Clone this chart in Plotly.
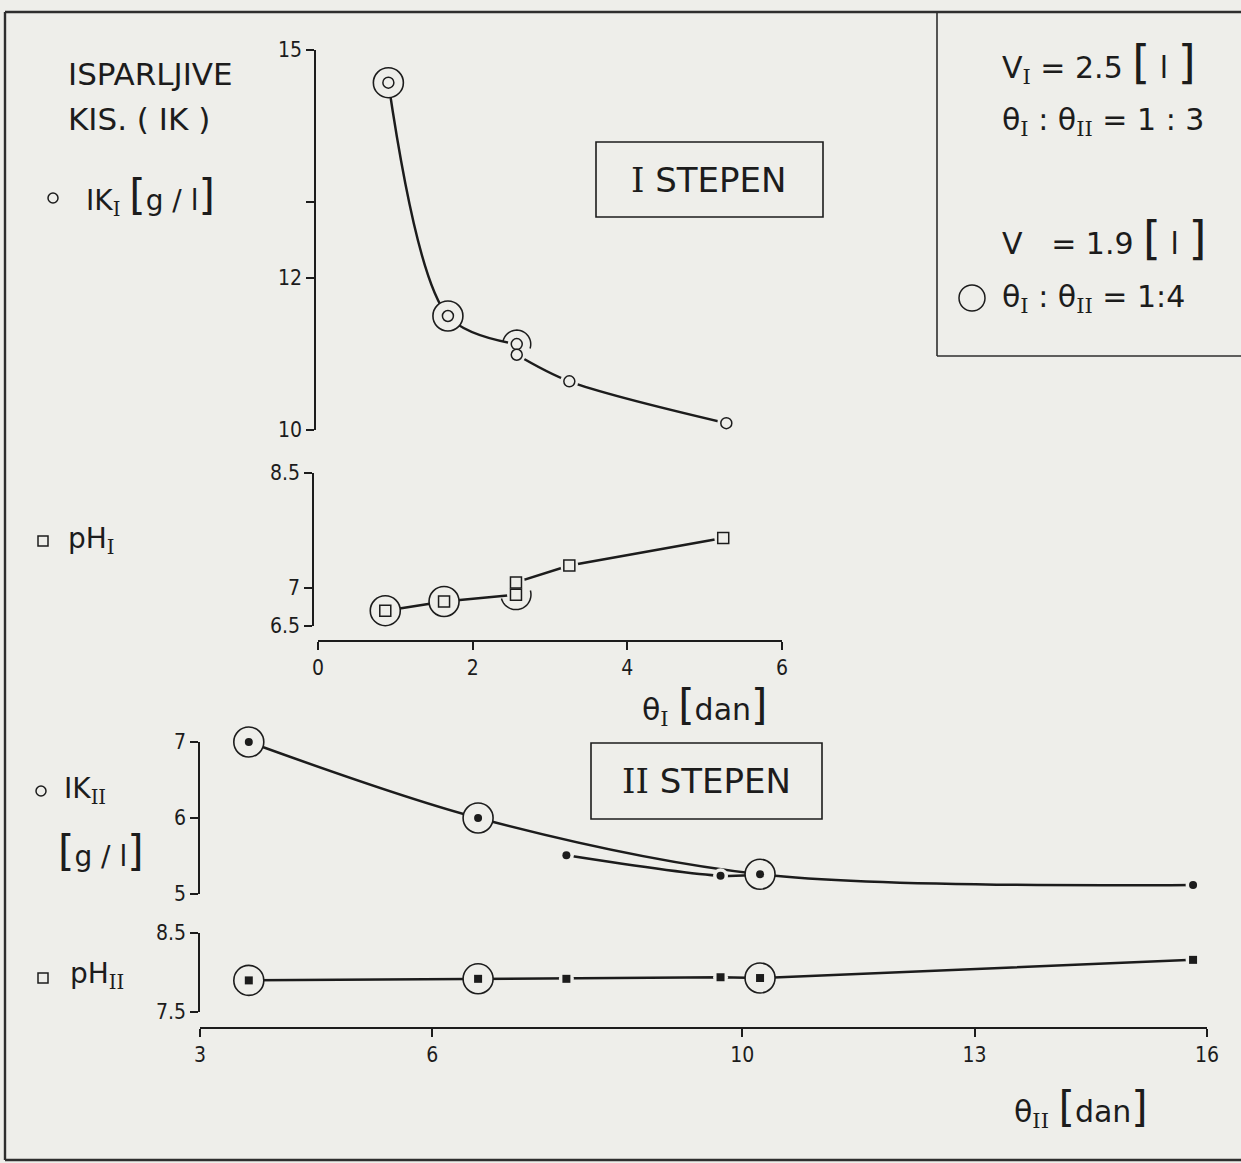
import math
import plotly.graph_objects as go

W, H = 1241, 1163
INK = "#1c1c1c"
BG = "#eeeeea"
FONT = "DejaVu Sans"
NARROW = "Liberation Sans Narrow, DejaVu Sans Condensed, DejaVu Sans"
SERIF = "DejaVu Serif"

# ---- Stage I (theta_I, days) ----
theta_I_ik = [0.91, 1.68, 2.57, 2.57, 3.25, 5.28]
ik_I = [14.57, 11.50, 11.13, 10.99, 10.64, 10.09]          # IK_I [g/l]
theta_I_ph = [0.87, 1.63, 2.56, 2.56, 3.25, 5.24]
ph_I = [6.70, 6.82, 6.91, 7.07, 7.29, 7.65]                # pH_I
ring_I = [0, 1]                                            # runs at theta_I:theta_II = 1:4

# ---- Stage II (theta_II, days) ----
theta_II = [3.63, 6.59, 7.73, 9.72, 10.23, 15.82]
ik_II = [7.00, 6.00, 5.51, 5.24, 5.26, 5.12]               # IK_II [g/l]
ph_II = [7.90, 7.92, 7.92, 7.94, 7.93, 8.16]               # pH_II
ring_II = [0, 1, 4]

# ---- axis ticks ----
ik_I_ticks = [10, 12, 13, 15]
ik_I_ticktext = ["10", "12", "", "15"]
ph_I_ticks = [6.5, 7, 8.5]
theta_I_ticks = [0, 2, 4, 6]
ik_II_ticks = [5, 6, 7]
ph_II_ticks = [7.5, 8.5]
theta_II_ticks = [3, 6, 10, 13, 16]


def fx(px):
    return px / W


def fy(py):
    return 1 - py / H


fig = go.Figure()


def series(xs, ys, xa, ya, segments, shape, symbol, fill, rings, mask):
    for seg in segments:
        fig.add_trace(go.Scatter(
            x=[xs[i] for i in seg], y=[ys[i] for i in seg], xaxis=xa, yaxis=ya,
            mode="lines", line=dict(color=INK, width=2.5, shape=shape, smoothing=0.9),
            hoverinfo="skip", cliponaxis=False))
    # clear the line around each reading
    fig.add_trace(go.Scatter(
        x=xs, y=ys, xaxis=xa, yaxis=ya, mode="markers",
        marker=dict(symbol="circle", size=mask, color=BG, line=dict(width=0)),
        hoverinfo="skip", cliponaxis=False))
    fig.add_trace(go.Scatter(
        x=[xs[i] for i in rings], y=[ys[i] for i in rings], xaxis=xa, yaxis=ya,
        mode="markers",
        marker=dict(symbol="circle", size=30, color=BG, line=dict(color=INK, width=1.6)),
        hoverinfo="skip", cliponaxis=False))
    if fill:
        mk = dict(symbol=symbol, size=8, color=INK, line=dict(width=0))
    else:
        mk = dict(symbol=symbol, size=11, color=BG, line=dict(color=INK, width=1.5))
    fig.add_trace(go.Scatter(x=xs, y=ys, xaxis=xa, yaxis=ya, mode="markers",
                             marker=mk, hoverinfo="skip", cliponaxis=False))


series(theta_I_ik, ik_I, "x", "y", [[0, 1, 2], [3, 4, 5]], "spline",
       "circle", False, ring_I, 18)
series(theta_I_ph, ph_I, "x", "y2", [[0, 1, 2, 3, 4, 5]], "linear",
       "square", False, ring_I, 18)
series(theta_II, ik_II, "x2", "y3", [[0, 1, 4, 5], [2, 3, 4]], "spline",
       "circle", True, ring_II, 15)
series(theta_II, ph_II, "x2", "y4", [[0, 1, 2, 3, 4, 5]], "linear",
       "square", True, ring_II, 15)

axis_common = dict(showline=True, linecolor=INK, linewidth=1.7, ticks="outside",
                   ticklen=8, tickwidth=1.6, tickcolor=INK, showgrid=False,
                   zeroline=False, anchor="free", automargin=False,
                   tickfont=dict(family=NARROW, size=21, color=INK))

fig.update_layout(
    xaxis=dict(axis_common, domain=[fx(318), fx(782)], range=[0, 6],
               tickvals=theta_I_ticks, position=fy(641)),
    yaxis=dict(axis_common, domain=[fy(430), fy(50)], range=[10, 15],
               tickvals=ik_I_ticks, ticktext=ik_I_ticktext, position=fx(315)),
    yaxis2=dict(axis_common, domain=[fy(626), fy(473)], range=[6.5, 8.5],
                tickvals=ph_I_ticks, ticktext=["6.5", "7", "8.5"], position=fx(313)),
    xaxis2=dict(axis_common, domain=[fx(200), fx(1207)], range=[3, 16],
                tickvals=theta_II_ticks, position=fy(1028)),
    yaxis3=dict(axis_common, domain=[fy(894), fy(742)], range=[5, 7],
                tickvals=ik_II_ticks, position=fx(199)),
    yaxis4=dict(axis_common, domain=[fy(1012), fy(933)], range=[7.5, 8.5],
                tickvals=ph_II_ticks, ticktext=["7.5", "8.5"], position=fx(199)),
)


def arc(r, a0, a1, n=28):
    pts = []
    for k in range(n + 1):
        a = math.radians(a0 + (a1 - a0) * k / n)
        pts.append((r * math.cos(a), r * math.sin(a)))
    return "M" + " L".join(f"{x:.2f},{y:.2f}" for x, y in pts)


shapes = []
# partially hidden 1:4 rings behind the paired readings at theta_I ~ 2.6 d
shapes.append(dict(type="path", xref="x", yref="y", xsizemode="pixel", ysizemode="pixel",
                   xanchor=theta_I_ik[2], yanchor=ik_I[2], path=arc(14, 170, -18),
                   line=dict(color=INK, width=1.5)))
shapes.append(dict(type="path", xref="x", yref="y2", xsizemode="pixel", ysizemode="pixel",
                   xanchor=theta_I_ph[2], yanchor=ph_I[2], path=arc(15, 195, 376),
                   line=dict(color=INK, width=1.5)))


def pline(x0, y0, x1, y1, w=2.4, c="#2e2e2e"):
    shapes.append(dict(type="line", xref="paper", yref="paper", x0=fx(x0), y0=fy(y0),
                       x1=fx(x1), y1=fy(y1), line=dict(color=c, width=w)))


def prect(x0, y0, x1, y1, w=1.6):
    shapes.append(dict(type="rect", xref="paper", yref="paper", x0=fx(x0), y0=fy(y0),
                       x1=fx(x1), y1=fy(y1), line=dict(color=INK, width=w)))


def pcircle(cx, cy, r, w=1.5):
    shapes.append(dict(type="circle", xref="paper", yref="paper", x0=fx(cx - r), y0=fy(cy + r),
                       x1=fx(cx + r), y1=fy(cy - r), line=dict(color=INK, width=w)))


def psquare(cx, cy, r, w=1.5):
    prect(cx - r, cy - r, cx + r, cy + r, w)


# page frame and parameter box
pline(5, 12, 1260, 12)
pline(5, 12, 5, 1160)
pline(5, 1160, 1260, 1160)
pline(937, 12, 937, 356, w=1.6)
pline(937, 356, 1260, 356, w=1.6)

# stage boxes
prect(596, 142, 823, 217)
prect(591, 743, 822, 819)

# legend symbols
pcircle(53, 198, 5)
psquare(43, 541, 5)
pcircle(41, 791, 5)
psquare(43, 978, 5)
pcircle(972, 298, 13)

ann = []


def label(text, x, y, size=30, xanchor="left", family=FONT):
    ann.append(dict(text=text, x=fx(x), y=fy(y), xref="paper", yref="paper",
                    xanchor=xanchor, yanchor="middle", showarrow=False,
                    font=dict(family=family, size=size, color=INK)))


def rn(s):
    return f"<sub><span style=\"font-family:'{SERIF}'\">{s}</span></sub>"


def br(c, size=42):
    return f'<span style="font-size:{size}px">{c}</span>'


label("ISPARLJIVE", 66, 74, 31)
label("KIS. ( IK )", 66, 119, 31)
label(f"IK{rn('I')} {br('[')}g / l{br(']')}", 84, 196, 28)
label(f"pH{rn('I')}", 66, 540, 28)
label(f"IK{rn('II')}", 62, 790, 28)
label(f"{br('[')}g / l{br(']')}", 56, 851, 28)
label(f"pH{rn('II')}", 68, 975, 28)
label(f"θ{rn('I')} {br('[')}dan{br(']')}", 640, 706, 30)
label(f"θ{rn('II')} {br('[')}dan{br(']')}", 1012, 1108, 30)

label(f"<span style=\"font-family:'{SERIF}'\">I</span> STEPEN", 709, 180, 34, "center")
label(f"<span style=\"font-family:'{SERIF}'\">II</span> STEPEN", 706, 781, 34, "center")

label(f"V{rn('I')} = 2.5 {br('[', 46)} l {br(']', 46)}", 1000, 62, 30)
label(f"θ{rn('I')} : θ{rn('II')} = 1 : 3", 1000, 122, 30)
label(f"V&nbsp;&nbsp; = 1.9 {br('[', 46)} l {br(']', 46)}", 1000, 238, 30)
label(f"θ{rn('I')} : θ{rn('II')} = 1:4", 1000, 298, 30)

fig.update_layout(
    width=W, height=H, autosize=False,
    margin=dict(l=0, r=0, t=0, b=0, pad=0, autoexpand=False),
    paper_bgcolor=BG, plot_bgcolor="rgba(0,0,0,0)",
    showlegend=False, shapes=shapes, annotations=ann,
    font=dict(family=FONT, color=INK),
)

fig.write_html(
    "out.html",
    post_script="document.body.style.margin='0';document.body.style.padding='0';",
)
